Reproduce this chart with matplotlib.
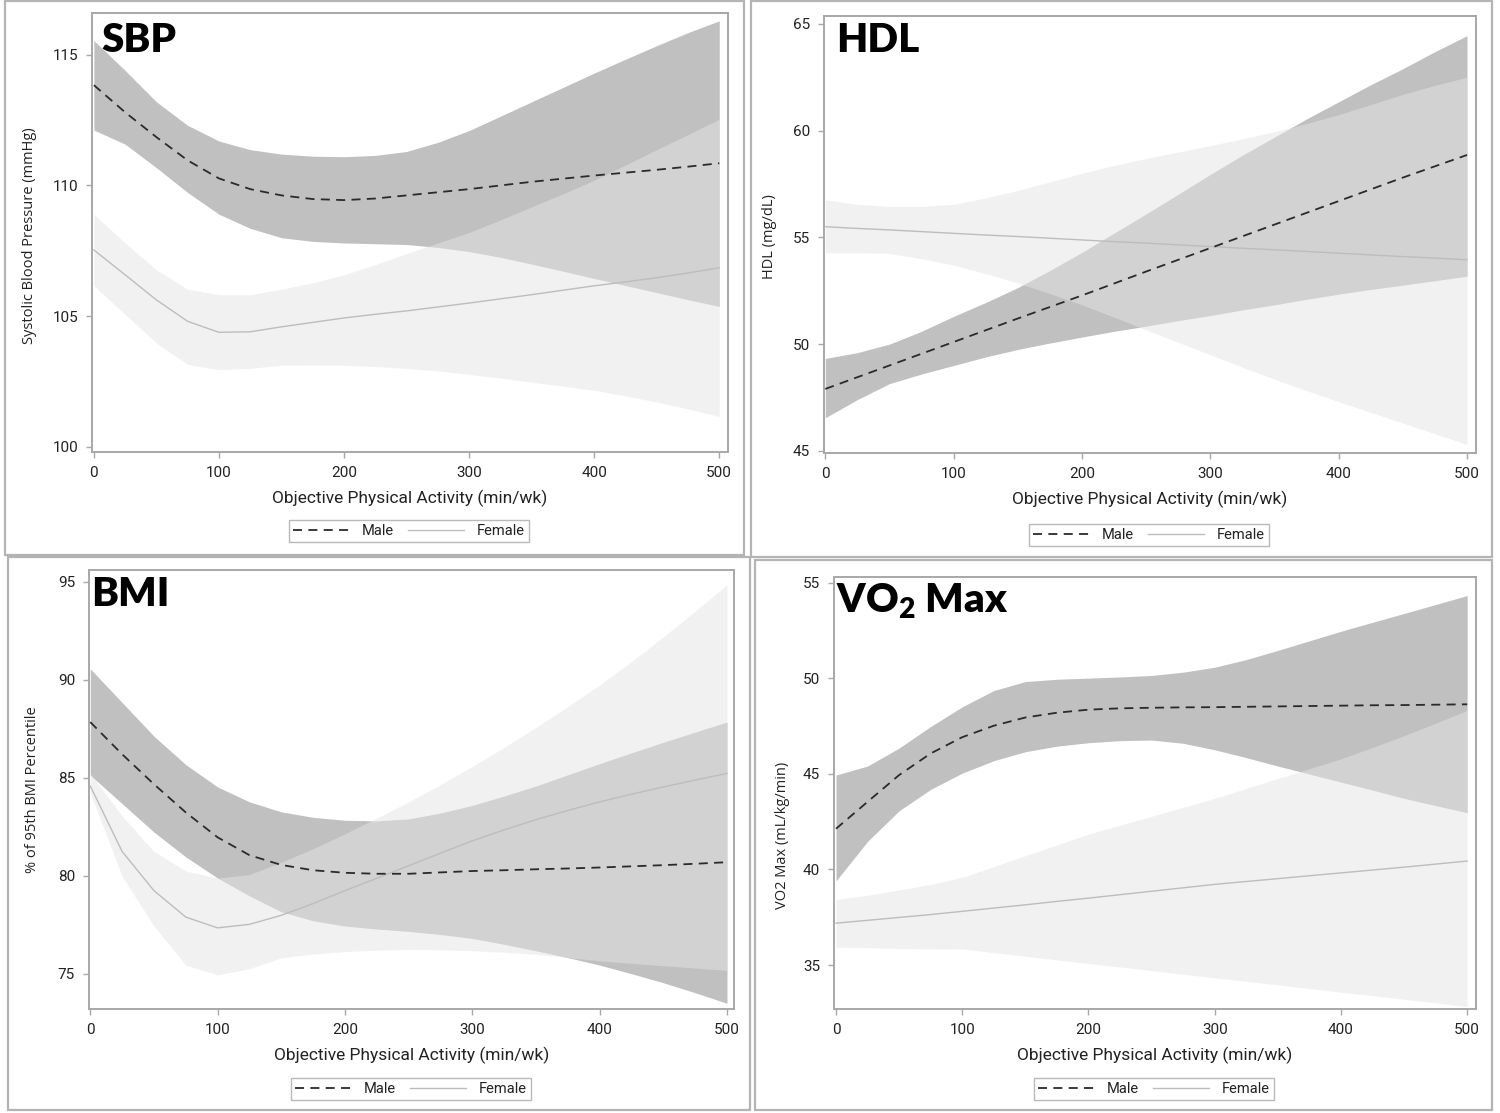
import matplotlib
matplotlib.use("Agg")
import matplotlib.pyplot as plt
from matplotlib.patches import Rectangle
from matplotlib.lines import Line2D

W, H = 1500, 1113

# physical activity grid (min/wk)
x = [0, 25, 50, 75, 100, 125, 150, 175, 200, 225, 250, 275, 300, 325, 350, 375, 400, 425, 450, 475, 500]

# SBP
sbp_m = [113.84, 112.8, 111.85, 110.96, 110.27, 109.86, 109.62, 109.48, 109.44, 109.5, 109.62, 109.74,
         109.86, 110.0, 110.14, 110.26, 110.38, 110.49, 110.6, 110.72, 110.85]
sbp_m_hi = [115.55, 114.4, 113.2, 112.3, 111.7, 111.37, 111.2, 111.12, 111.1, 111.15, 111.3, 111.65,
            112.1, 112.65, 113.2, 113.75, 114.3, 114.83, 115.35, 115.85, 116.3]
sbp_m_lo = [112.12, 111.58, 110.68, 109.73, 108.9, 108.36, 108.0, 107.86, 107.8, 107.77, 107.74, 107.63,
            107.47, 107.25, 106.99, 106.72, 106.44, 106.17, 105.9, 105.63, 105.37]
sbp_f = [107.53, 106.58, 105.62, 104.8, 104.38, 104.4, 104.59, 104.76, 104.93, 105.07, 105.2, 105.35,
         105.5, 105.66, 105.82, 105.99, 106.16, 106.31, 106.47, 106.65, 106.85]
sbp_f_hi = [108.9, 107.8, 106.78, 106.03, 105.82, 105.82, 106.03, 106.28, 106.58, 106.97, 107.4, 107.8,
            108.2, 108.68, 109.18, 109.68, 110.2, 110.78, 111.37, 111.95, 112.53]
sbp_f_lo = [106.16, 105.07, 103.97, 103.15, 102.95, 103.0, 103.12, 103.13, 103.12, 103.07, 103.0, 102.9,
            102.77, 102.63, 102.47, 102.32, 102.16, 101.95, 101.71, 101.45, 101.16]

# HDL
hdl_m = [47.9, 48.45, 49.0, 49.55, 50.1, 50.65, 51.2, 51.74, 52.28, 52.84, 53.4, 53.95,
         54.5, 55.05, 55.6, 56.15, 56.7, 57.25, 57.8, 58.33, 58.86]
hdl_m_hi = [49.33, 49.6, 50.0, 50.6, 51.3, 51.95, 52.65, 53.45, 54.3, 55.2, 56.1, 57.02,
            57.95, 58.85, 59.7, 60.55, 61.35, 62.15, 62.9, 63.7, 64.45]
hdl_m_lo = [46.55, 47.4, 48.15, 48.6, 49.0, 49.4, 49.75, 50.05, 50.33, 50.6, 50.84, 51.1,
            51.34, 51.6, 51.84, 52.1, 52.34, 52.56, 52.76, 52.97, 53.18]
hdl_f = [55.5, 55.42, 55.35, 55.27, 55.19, 55.11, 55.04, 54.96, 54.88, 54.8, 54.73, 54.65,
         54.57, 54.49, 54.42, 54.34, 54.26, 54.18, 54.1, 54.03, 53.95]
hdl_f_hi = [56.76, 56.55, 56.45, 56.45, 56.55, 56.85, 57.2, 57.6, 58.0, 58.37, 58.7, 59.0,
            59.3, 59.62, 59.95, 60.33, 60.75, 61.22, 61.7, 62.12, 62.5]
hdl_f_lo = [54.28, 54.28, 54.25, 54.0, 53.7, 53.3, 52.86, 52.37, 51.84, 51.26, 50.67, 50.08,
            49.5, 48.92, 48.35, 47.82, 47.3, 46.8, 46.3, 45.8, 45.3]

# BMI
bmi_m = [87.84, 86.2, 84.67, 83.23, 81.96, 81.05, 80.55, 80.28, 80.15, 80.1, 80.1, 80.17,
         80.24, 80.28, 80.33, 80.37, 80.42, 80.48, 80.54, 80.61, 80.69]
bmi_m_hi = [90.56, 88.84, 87.12, 85.67, 84.53, 83.77, 83.26, 82.98, 82.83, 82.8, 82.9, 83.2,
            83.59, 84.07, 84.58, 85.15, 85.72, 86.27, 86.81, 87.33, 87.84]
bmi_m_lo = [85.13, 83.68, 82.23, 80.96, 79.88, 78.97, 78.16, 77.7, 77.43, 77.28, 77.16, 77.0,
            76.8, 76.5, 76.17, 75.82, 75.44, 75.0, 74.54, 74.03, 73.49]
bmi_f = [84.58, 81.24, 79.24, 77.89, 77.34, 77.52, 77.98, 78.58, 79.24, 79.87, 80.51, 81.15,
         81.78, 82.34, 82.86, 83.33, 83.77, 84.16, 84.53, 84.88, 85.22]
bmi_f_hi = [85.22, 83.05, 81.24, 80.24, 79.88, 80.06, 80.69, 81.38, 82.14, 82.95, 83.77, 84.65,
            85.58, 86.55, 87.57, 88.63, 89.74, 90.93, 92.19, 93.5, 94.85]
bmi_f_lo = [84.22, 79.97, 77.43, 75.44, 74.94, 75.26, 75.81, 76.0, 76.13, 76.2, 76.24, 76.22,
            76.17, 76.09, 75.99, 75.83, 75.66, 75.53, 75.41, 75.29, 75.17]

# VO2 max
vo2_m = [42.13, 43.54, 44.94, 46.07, 46.92, 47.52, 47.95, 48.2, 48.36, 48.43, 48.46, 48.48,
         48.49, 48.51, 48.53, 48.55, 48.57, 48.59, 48.6, 48.62, 48.64]
vo2_m_hi = [44.94, 45.41, 46.35, 47.48, 48.51, 49.36, 49.83, 49.95, 50.01, 50.07, 50.15, 50.32,
            50.58, 50.98, 51.46, 51.96, 52.46, 52.93, 53.39, 53.86, 54.33]
vo2_m_lo = [39.4, 41.47, 43.07, 44.19, 45.04, 45.69, 46.16, 46.45, 46.63, 46.74, 46.77, 46.6,
            46.26, 45.85, 45.41, 44.99, 44.57, 44.15, 43.72, 43.34, 42.97]
vo2_f = [37.19, 37.34, 37.49, 37.64, 37.81, 37.98, 38.15, 38.33, 38.5, 38.68, 38.86, 39.04,
         39.22, 39.37, 39.52, 39.67, 39.82, 39.97, 40.12, 40.28, 40.44]
vo2_f_hi = [38.43, 38.65, 38.93, 39.22, 39.59, 40.15, 40.72, 41.29, 41.85, 42.32, 42.78, 43.25,
            43.72, 44.24, 44.76, 45.27, 45.79, 46.38, 47.0, 47.65, 48.32]
vo2_f_lo = [35.93, 35.91, 35.87, 35.85, 35.84, 35.65, 35.46, 35.27, 35.08, 34.9, 34.71, 34.52,
            34.33, 34.15, 33.96, 33.77, 33.58, 33.4, 33.21, 33.02, 32.83]

NARROW = ["Liberation Sans Narrow", "Roboto", "DejaVu Sans"]
SANS = ["Open Sans", "DejaVu Sans"]
TITLE = ["Lato", "DejaVu Sans"]

MALE_BAND = "#c0c0c0"
FEMALE_BAND = "#e5e5e5"
FRAME = "#a8a8a8"
MALE_LINE = "#2a2a2a"
FEMALE_LINE = "#bdbdbd"


def box(left, top, right, bottom):
    # pixel box -> figure fraction [l, b, w, h]
    return [left / W, 1 - bottom / H, (right - left) / W, (bottom - top) / H]


def panel(fig, frame, axbox, xlim, ylim, yticks, ylabel, ylabel_pos, title, title_pos,
          legend_pos, m, m_hi, m_lo, f, f_hi, f_lo):
    fig.patches.append(Rectangle((frame[0] / W, 1 - frame[3] / H),
                                 (frame[2] - frame[0]) / W, (frame[3] - frame[1]) / H,
                                 transform=fig.transFigure, fill=False,
                                 edgecolor="#b4b4b4", lw=1.6))
    ax = fig.add_axes(box(*axbox))
    ax.fill_between(x, m_lo, m_hi, color=MALE_BAND, lw=0, zorder=1)
    ax.fill_between(x, f_lo, f_hi, color=FEMALE_BAND, alpha=0.5, lw=0, zorder=2)
    ax.plot(x, f, color=FEMALE_LINE, lw=1.0, zorder=3)
    ax.plot(x, m, color=MALE_LINE, lw=1.3, dashes=(5, 3.5), zorder=4)

    ax.set_xlim(*xlim)
    ax.set_ylim(*ylim)
    ax.set_xticks([0, 100, 200, 300, 400, 500])
    ax.set_yticks(yticks)
    for s in ax.spines.values():
        s.set_color(FRAME)
        s.set_linewidth(1.4)
    ax.tick_params(colors=FRAME, labelcolor="#222222", length=4, width=1, pad=6)
    for lab in ax.get_xticklabels() + ax.get_yticklabels():
        lab.set_fontfamily(NARROW)
        lab.set_fontsize(11)

    fig.text((axbox[0] + axbox[2]) / 2 / W, 1 - (axbox[3] + 46) / H,
             "Objective Physical Activity (min/wk)", family=NARROW, fontsize=12.5,
             color="#222222", ha="center", va="center")
    fig.text(ylabel_pos[0] / W, 1 - ylabel_pos[1] / H, ylabel, family=SANS,
             fontsize=10.5, color="#222222", rotation=90, ha="center", va="center")
    fig.text(title_pos[0] / W, 1 - title_pos[1] / H, title, family=TITLE,
             fontweight="heavy", fontsize=29, color="black", ha="left", va="top")

    handles = [Line2D([], [], color=MALE_LINE, lw=1.3, dashes=(5, 3.5)),
               Line2D([], [], color=FEMALE_LINE, lw=1.0)]
    fig.legend(handles, ["Male", "Female"], loc="center",
               bbox_to_anchor=(legend_pos[0] / W, 1 - legend_pos[1] / H),
               ncol=2, frameon=True, fancybox=False, edgecolor=FRAME,
               prop={"family": NARROW, "size": 10.5}, handlelength=3.8,
               handletextpad=0.9, columnspacing=1.0, borderpad=0.25,
               labelcolor="#222222")
    return ax


fig = plt.figure(figsize=(W / 100, H / 100), dpi=100)

panel(fig, (5, 1, 744, 555), (92, 13, 728, 452), (-1.5, 507), (99.8, 116.6),
      [100, 105, 110, 115], "Systolic Blood Pressure (mmHg)", (30, 236),
      "SBP", (101, 22), (409, 531), sbp_m, sbp_m_hi, sbp_m_lo, sbp_f, sbp_f_hi, sbp_f_lo)

panel(fig, (751, 1, 1492, 557), (824, 16, 1476, 453), (-1, 507), (44.9, 65.37),
      [45, 50, 55, 60, 65], "HDL (mg/dL)", (769, 237),
      "HDL", (836, 22), (1149, 535), hdl_m, hdl_m_hi, hdl_m_lo, hdl_f, hdl_f_hi, hdl_f_lo)

panel(fig, (8, 557, 750, 1110), (89, 570, 734, 1009), (-1, 505.5), (73.2, 95.6),
      [75, 80, 85, 90, 95], "% of 95th BMI Percentile", (33, 790),
      "BMI", (91, 576), (411, 1089), bmi_m, bmi_m_hi, bmi_m_lo, bmi_f, bmi_f_hi, bmi_f_lo)

panel(fig, (755, 560, 1492, 1110), (834, 577, 1476, 1009), (-1.6, 507), (32.7, 55.3),
      [35, 40, 45, 50, 55], "VO2 Max (mL/kg/min)", (782, 835),
      "VO$\\mathregular{_2}$ Max", (836, 582), (1154, 1089),
      vo2_m, vo2_m_hi, vo2_m_lo, vo2_f, vo2_f_hi, vo2_f_lo)

fig.savefig("out.png", dpi=100)
